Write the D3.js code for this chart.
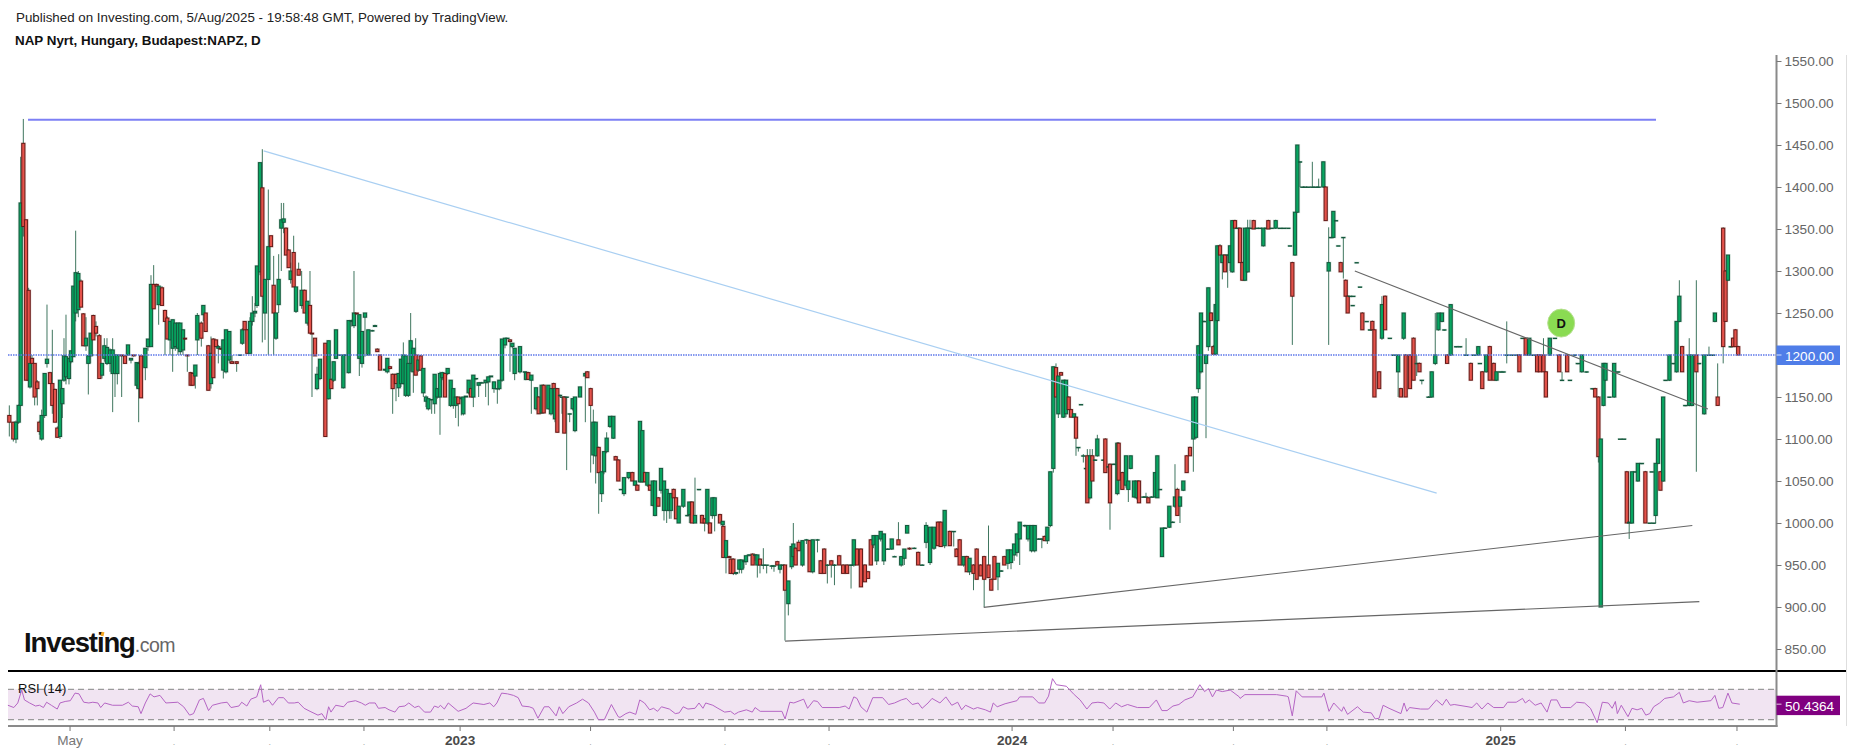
<!DOCTYPE html>
<html><head><meta charset="utf-8">
<script src="https://d3js.org/d3.v7.min.js"></script>
<style>html,body{margin:0;padding:0;background:#fff}svg{display:block}text{font-family:"Liberation Sans",Arial,sans-serif}</style>
</head><body><svg id="c" width="1855" height="755"></svg>
<script>
// rows: [session reading, open, high, low, close]
const candlesA=[[28,1128,1140,1103,1120],[40,1120,1120,1097,1100],[48,1100,1122,1095,1120],[56,1120,1141,1118,1140],[62,1140,1436,1140,1381],[70,1452,1481,1341,1353],[78,1361,1361,1170,1170],[86,1277,1280,1170,1170],[90,1162,1200,1160,1190],[96,1196,1200,1190,1190],[104,1190,1190,1140,1150],[112,1168,1170,1140,1160],[118,1120,1122,1105,1109],[125,1100,1135,1098,1128],[134,1128,1178,1125,1178],[141,1190,1260,1185,1195],[150,1179,1180,1166,1166],[157,1166,1230,1130,1140],[165,1159,1160,1120,1120],[172,1113,1115,1102,1102],[180,1103,1170,1100,1170],[187,1142,1160,1125,1160],[192,1170,1220,1168,1199],[198,1174,1248,1165,1198],[207,1172,1196,1165,1196],[213,1192,1205,1190,1205],[220,1198,1282,1198,1282],[227,1250,1348,1240,1298],[235,1254,1300,1245,1297],[243,1288,1290,1257,1257],[250,1249,1250,1211,1211],[258,1211,1245,1205,1220],[265,1190,1200,1153,1199],[272,1199,1226,1190,1226],[280,1247,1248,1218,1218],[288,1234,1240,1222,1226],[298,1223,1225,1172,1172],[306,1176,1190,1172,1190],[313,1196,1220,1192,1211],[321,1190,1220,1188,1209],[330,1190,1208,1180,1206],[338,1178,1220,1132,1206],[345,1178,1200,1150,1200],[352,1178,1200,1165,1200],[365,1200,1200,1150,1199],[375,1199,1199,1190,1190],[384,1200,1212,1200,1212],[393,1194,1196,1190,1196],[401,1200,1200,1198,1199],[410,1164,1191,1160,1191],[416,1160,1192,1120,1190],[423,1199,1199,1149,1149],[436,1185,1208,1170,1208],[444,1210,1219,1205,1219],[453,1210,1295,1210,1284],[461,1284,1307,1255,1255],[470,1284,1285,1282,1282],[476,1260,1282,1236,1282],[486,1280,1282,1259,1259],[495,1253,1254,1200,1240],[502,1244,1246,1219,1219],[510,1218,1240,1200,1240],[518,1208,1242,1180,1242],[526,1210,1238,1205,1238],[534,1208,1238,1200,1238],[541,1204,1238,1200,1238],[549,1206,1230,1200,1230],[555,1220,1220,1218,1219],[562,1200,1200,1180,1199],[572,1179,1180,1164,1164],[578,1178,1178,1164,1164],[586,1175,1188,1160,1188],[592,1218,1250,1200,1247]];
const candlesB=[[4,1238,1240,1210,1220],[10,1248,1259,1240,1259],[17,1250,1250,1228,1228],[25,1211,1212,1158,1158],[33,1166,1222,1160,1202],[40,1219,1220,1173,1173],[48,1218,1218,1210,1210],[55,1208,1212,1190,1210],[62,1208,1208,1206,1207],[70,1182,1218,1172,1218],[78,1180,1230,1178,1230],[88,1194,1228,1190,1228],[96,1192,1200,1190,1190],[110,1192,1192,1180,1190],[120,1200,1200,1200,1200],[127,1214,1232,1212,1230],[134,1240,1240,1230,1230],[142,1230,1231,1202,1202],[150,1202,1245,1202,1240],[157,1240,1270,1235,1250],[165,1250,1262,1245,1252],[171,1259,1306,1256,1306],[180,1299,1429,1295,1429],[187,1399,1445,1215,1270],[195,1250,1290,1218,1290],[205,1290,1397,1200,1329],[213,1342,1342,1329,1329],[221,1283,1318,1200,1250],[228,1220,1250,1218,1250],[236,1260,1320,1250,1290],[244,1351,1381,1300,1361],[251,1358,1381,1345,1362],[258,1351,1352,1319,1319],[266,1325,1326,1304,1304],[272,1290,1310,1285,1300],[281,1322,1342,1281,1281],[288,1252,1281,1250,1281],[296,1302,1310,1295,1295],[305,1259,1300,1255,1277],[314,1277,1278,1250,1250],[322,1238,1264,1235,1264],[330,1259,1300,1226,1226],[336,1226,1226,1150,1225],[345,1220,1220,1199,1199],[351,1160,1186,1158,1177],[360,1172,1195,1170,1195],[376,1214,1214,1103,1103],[386,1148,1217,1147,1217],[394,1171,1172,1160,1160],[401,1170,1192,1168,1192],[408,1196,1230,1196,1230],[416,1200,1200,1199,1200],[430,1161,1200,1160,1200],[438,1200,1200,1199,1200],[446,1179,1241,1178,1241],[455,1240,1242,1234,1241],[462,1235,1300,1232,1250],[470,1250,1250,1248,1249],[478,1196,1248,1175,1248],[486,1190,1228,1185,1228],[495,1245,1250,1198,1250],[505,1200,1230,1200,1230],[517,1229,1230,1228,1229],[525,1234,1236,1234,1235],[532,1207,1208,1204,1204],[540,1200,1200,1182,1182],[555,1182,1183,1181,1183],[562,1180,1196,1178,1196],[570,1186,1187,1183,1184],[578,1177,1178,1130,1160],[588,1177,1178,1145,1166],[596,1161,1178,1150,1178]];
const candlesC=[[3,1166,1195,1162,1195],[10,1166,1215,1165,1200],[17,1152,1199,1150,1199],[25,1152,1190,1150,1190],[32,1190,1250,1180,1217],[40,1180,1208,1155,1208],[47,1200,1220,1176,1176],[55,1182,1194,1180,1194],[62,1199,1200,1182,1182],[70,1155,1184,1150,1184],[78,1145,1152,1138,1150],[85,1136,1148,1134,1148],[95,1147,1147,1130,1147],[104,1142,1177,1130,1177],[112,1150,1160,1148,1160],[120,1150,1180,1105,1178],[127,1173,1180,1170,1179],[135,1178,1179,1150,1150],[143,1178,1184,1176,1184],[152,1140,1170,1138,1170],[160,1140,1160,1136,1160],[167,1140,1150,1125,1150],[175,1150,1150,1115,1142],[184,1148,1150,1128,1149],[190,1130,1150,1128,1150],[198,1150,1151,1150,1151],[206,1155,1170,1153,1170],[213,1160,1161,1150,1150],[220,1150,1176,1138,1176],[228,1172,1172,1170,1172],[236,1164,1167,1150,1167],[245,1167,1168,1166,1167],[257,1167,1170,1150,1170],[265,1168,1174,1140,1174],[273,1174,1175,1174,1175],[282,1160,1168,1155,1168],[292,1160,1160,1142,1160],[298,1160,1170,1158,1170],[306,1170,1219,1168,1219],[315,1212,1220,1208,1220],[322,1220,1220,1219,1220],[330,1218,1219,1180,1216],[337,1210,1214,1208,1214],[344,1178,1208,1170,1208],[360,1180,1210,1178,1210],[375,1180,1180,1170,1180],[378,1171,1179,1170,1179],[385,1179,1180,1171,1171],[394,1170,1176,1130,1176],[408,1136,1161,1134,1161],[416,1150,1151,1130,1130],[425,1131,1164,1130,1164],[431,1164,1165,1131,1131],[445,1136,1164,1135,1164],[453,1130,1160,1128,1160],[461,1166,1167,1160,1160],[465,1124,1160,1120,1160],[472,1160,1160,1108,1108],[480,1152,1153,1150,1152],[486,1150,1150,1130,1150],[493,1150,1151,1107,1107],[500,1150,1150,1063,1150],[509,1130,1130,1120,1130],[518,1136,1148,1134,1148],[525,1110,1150,1108,1150],[540,1150,1162,1150,1162],[556,1175,1180,1120,1178],[562,1180,1181,1173,1173],[572,1160,1161,1060,1140],[580,1081,1135,1070,1120],[587,1080,1120,1047,1120],[596,1090,1091,1011,1060]];
const candlesD=[[5,1035,1061,1025,1061],[12,1061,1085,1058,1085],[20,1085,1108,1083,1101],[30,1115,1127,1113,1127],[40,1101,1127,1100,1127],[47,1079,1080,1075,1075],[55,1075,1076,1050,1050],[63,1040,1040,1040,1040],[72,1035,1054,1032,1054],[86,1054,1060,1052,1060],[97,1060,1061,1050,1050],[105,1045,1050,1044,1050],[112,1045,1046,1039,1039],[120,1049,1121,1048,1121],[127,1049,1110,1048,1110],[135,1060,1061,1049,1049],[142,1045,1060,1043,1060],[150,1045,1046,1039,1039],[158,1021,1050,1020,1050],[165,1009,1050,1008,1050],[175,1030,1031,1020,1020],[183,1039,1065,1035,1065],[192,1015,1050,1003,1050],[200,1015,1040,1000,1040],[208,1015,1035,1005,1035],[213,1015,1035,1005,1035],[221,1040,1041,1030,1030],[228,1030,1031,1005,1005],[236,1000,1020,1000,1020],[250,1020,1040,1018,1040],[262,1009,1010,1008,1009],[268,1010,1025,1000,1025],[276,1025,1026,1000,1000],[285,1000,1054,1000,1009],[297,1040,1040,1039,1040],[306,1009,1010,1000,1000],[314,1005,1006,990,1000],[322,1000,1040,998,1040],[330,1000,1001,988,988],[337,1009,1030,1005,1030],[344,1009,1030,990,1030],[360,1010,1011,1000,1000],[368,998,1002,996,1002],[370,996,997,959,959],[378,959,979,940,979],[388,960,961,958,959],[392,957,958,940,940],[400,957,958,938,940],[408,940,941,938,941],[418,945,956,940,956],[425,945,956,940,956],[432,954,955,946,955],[438,954,961,950,961],[447,962,963,960,962],[458,963,964,950,950],[465,962,963,955,962],[472,950,962,935,962],[480,957,958,940,950],[490,950,970,945,950],[500,950,950,940,950],[515,949,950,945,949],[522,949,950,942,949],[532,954,955,950,950],[540,945,950,940,950],[548,950,950,949,950],[555,950,950,860,920],[565,904,931,890,931],[575,948,972,945,972],[580,960,1000,955,975],[587,970,971,950,950],[596,977,980,967,967]];
const candlesE=[[462,950,979,948,979],[472,980,981,975,980],[480,979,980,942,942],[488,942,980,940,980],[500,980,981,965,980],[508,955,956,940,940],[517,969,970,940,940],[525,950,951,928,950],[535,955,956,935,950],[543,950,951,926,950],[555,961,962,950,950],[565,950,951,940,940],[575,950,951,940,940],[585,950,951,922,950],[592,950,980,948,980],[600,969,970,950,950],[610,969,970,924,924],[620,950,951,930,930],[628,942,943,934,934],[635,980,981,950,950],[642,974,985,970,985],[650,955,985,950,985],[660,981,990,978,990],[668,955,987,950,987],[678,969,970,968,969],[688,969,981,968,981],[695,960,961,960,960],[705,980,1001,974,974],[712,950,960,948,960],[720,958,969,950,969],[727,988,997,988,997],[733,970,971,968,969],[745,970,971,969,970],[755,965,966,950,950],[765,950,951,950,950],[775,977,1001,970,997],[785,953,995,950,995],[795,970,995,968,995],[805,1001,1002,973,973],[812,1001,1002,972,972],[822,973,1015,970,1015],[835,990,991,973,973],[845,990,990,972,990],[852,969,970,960,960],[860,980,981,950,950],[870,950,960,948,960],[878,960,961,942,942],[885,942,958,938,958],[895,950,951,920,940],[903,969,970,933,933],[913,950,951,937,937],[922,960,961,900,933],[933,950,997,935,935],[940,933,934,920,920],[948,960,961,933,933],[957,936,952,920,952],[965,943,944,942,943],[973,960,961,950,950],[982,952,968,945,968],[990,953,968,945,968],[998,962,975,955,975],[1005,965,987,960,987],[1012,981,1001,950,1001],[1025,997,998,995,997],[1033,981,997,978,997],[1042,967,997,965,997],[1050,967,997,965,997],[1060,981,982,980,981],[1068,981,982,970,981],[1075,984,985,979,979],[1082,979,995,975,995]];
const candlesF=[[31,997,1061,995,1061],[40,1065,1186,1060,1186],[48,1185,1190,1150,1150],[55,1130,1175,1125,1175],[63,1179,1180,1176,1176],[70,1126,1170,1125,1170],[78,1130,1170,1126,1170],[86,1150,1151,1135,1135],[93,1135,1136,1126,1126],[102,1126,1130,1125,1130],[108,1126,1127,1080,1101],[115,1090,1090,1085,1090],[123,1141,1141,1141,1141],[130,1080,1082,1072,1080],[138,1065,1065,1065,1065],[142,1080,1088,1024,1024],[150,1030,1088,1028,1080],[157,1080,1088,1050,1050],[165,1075,1076,1074,1075],[172,1080,1105,1079,1100],[190,1075,1076,1075,1075],[196,1100,1101,1060,1060],[205,1067,1068,1067,1067],[210,1070,1071,992,1024],[222,1070,1071,1070,1070],[232,1035,1096,1033,1095],[236,1095,1096,1051,1051],[247,1060,1061,1040,1040],[258,1045,1080,1042,1080],[265,1040,1050,1025,1050],[272,1065,1080,1064,1080],[282,1031,1050,1030,1050],[290,1030,1050,1028,1050],[297,1050,1051,1024,1024],[310,1031,1032,1030,1031],[318,1031,1036,1030,1031],[325,1030,1031,1024,1024],[335,1031,1032,1031,1031],[345,1031,1060,1030,1060],[352,1030,1080,1030,1080],[360,1040,1040,1040,1040],[366,960,994,960,994],[375,994,995,993,994],[388,995,1020,994,1020],[398,1001,1002,1000,1001],[405,1020,1070,1018,1031],[412,1040,1042,1009,1009],[420,1020,1031,1000,1031],[430,1039,1050,1038,1050],[440,1080,1081,1060,1060],[450,1090,1091,1080,1080],[460,1100,1150,1061,1150],[468,1102,1150,1100,1150]];
const candlesG=[[55,1160,1211,1155,1211],[63,1180,1250,1178,1250],[72,1240,1241,1240,1240],[78,1190,1200,1101,1200],[85,1210,1280,1205,1280],[93,1250,1251,1241,1241],[100,1210,1212,1201,1201],[107,1201,1260,1200,1260],[112,1241,1330,1239,1330],[120,1330,1332,1319,1319],[127,1310,1319,1290,1319],[135,1319,1320,1299,1299],[143,1319,1320,1280,1319],[150,1310,1330,1300,1330],[157,1299,1360,1298,1360],[165,1360,1361,1351,1351],[172,1351,1351,1350,1351],[180,1351,1352,1310,1310],[187,1310,1311,1289,1289],[195,1289,1351,1288,1351],[203,1299,1361,1298,1351],[210,1351,1361,1350,1351],[221,1360,1361,1350,1350],[230,1351,1351,1350,1351],[240,1351,1351,1350,1351],[250,1330,1351,1329,1351],[258,1351,1351,1350,1351],[265,1360,1361,1350,1350],[275,1351,1351,1350,1351],[287,1351,1361,1350,1360],[300,1351,1351,1350,1351],[312,1351,1351,1350,1351],[325,1351,1351,1350,1351],[330,1330,1330,1330,1330],[337,1310,1311,1212,1270],[345,1319,1370,1318,1370],[352,1370,1450,1369,1450],[360,1430,1430,1400,1430],[367,1400,1400,1399,1400],[375,1400,1400,1399,1400],[385,1400,1400,1399,1400],[397,1400,1430,1399,1400],[407,1400,1400,1399,1400],[416,1400,1410,1399,1400],[430,1400,1430,1399,1430],[437,1400,1401,1360,1360],[446,1300,1352,1212,1310],[453,1340,1340,1339,1340],[460,1340,1371,1339,1371],[468,1360,1360,1360,1360],[475,1330,1330,1330,1330],[482,1310,1311,1299,1299],[490,1340,1340,1291,1340],[497,1289,1290,1270,1270],[503,1270,1271,1250,1250],[510,1270,1270,1270,1270],[520,1270,1270,1270,1270],[518,1259,1259,1259,1259],[530,1310,1310,1310,1310],[540,1281,1281,1281,1281],[547,1250,1251,1230,1230],[560,1240,1240,1240,1240],[570,1230,1230,1230,1230],[577,1240,1241,1230,1230]];
const candlesH=[[353,1230,1231,1150,1150],[365,1180,1181,1160,1160],[372,1220,1270,1218,1260],[380,1270,1271,1230,1230],[392,1220,1220,1219,1220],[402,1200,1200,1199,1200],[413,1180,1200,1150,1200],[420,1160,1161,1150,1150],[427,1220,1250,1218,1250],[432,1200,1201,1150,1150],[443,1200,1201,1160,1160],[452,1220,1221,1170,1170],[460,1190,1200,1175,1190],[467,1190,1191,1180,1180],[473,1170,1170,1165,1170],[490,1150,1151,1150,1150],[498,1150,1180,1149,1180],[507,1190,1250,1188,1200],[515,1230,1250,1229,1250],[524,1240,1250,1239,1250],[530,1230,1230,1229,1230],[537,1200,1201,1190,1190],[546,1200,1260,1199,1260],[560,1210,1210,1209,1210],[570,1210,1210,1209,1210],[585,1200,1220,1199,1200],[597,1190,1191,1170,1170],[605,1200,1200,1199,1200],[616,1200,1210,1199,1210],[620,1190,1190,1190,1190],[626,1180,1181,1160,1160],[636,1180,1200,1179,1200],[645,1210,1211,1170,1170],[655,1190,1191,1170,1170],[662,1170,1180,1169,1180],[672,1180,1180,1179,1180],[680,1180,1180,1179,1180],[688,1200,1240,1190,1200],[700,1200,1200,1199,1200],[712,1200,1200,1199,1200],[720,1200,1201,1180,1180],[728,1220,1220,1219,1220],[736,1220,1221,1200,1200],[745,1200,1220,1199,1220],[755,1200,1200,1199,1200],[765,1200,1201,1180,1180],[772,1200,1201,1180,1180],[781,1200,1220,1180,1180],[787,1180,1181,1150,1150],[797,1200,1220,1199,1220],[810,1220,1220,1219,1220],[821,1200,1201,1180,1180],[828,1170,1180,1169,1170],[841,1200,1201,1180,1180],[848,1170,1170,1169,1170],[860,1200,1200,1199,1200],[868,1190,1190,1189,1190],[878,1180,1200,1179,1200],[890,1180,1180,1179,1180],[905,1160,1160,1159,1160],[912,1160,1161,1150,1150],[920,1150,1151,1072,1079],[926,900,1100,900,1100],[933,1140,1190,1139,1190],[938,1170,1190,1169,1190],[948,1150,1150,1149,1150],[960,1150,1190,1149,1190],[970,1180,1180,1179,1180],[975,1100,1100,1100,1100],[985,1100,1100,1100,1100],[992,1061,1062,1000,1000],[998,1000,1001,981,1001],[1005,1000,1061,999,1061],[1013,1061,1061,1060,1061],[1020,1050,1071,1049,1071],[1030,1071,1071,1070,1071],[1039,1061,1062,1000,1000],[1050,1000,1000,999,1000],[1055,1061,1061,1061,1061],[1060,1000,1000,999,1000],[1065,1009,1071,1000,1071],[1071,1071,1100,1070,1100],[1077,1061,1062,1039,1039],[1084,1050,1150,1049,1150],[1090,1170,1170,1169,1170],[1100,1170,1200,1169,1200],[1110,1190,1190,1189,1190],[1118,1180,1240,1179,1240],[1125,1240,1289,1239,1270],[1132,1210,1211,1180,1180],[1140,1140,1140,1139,1140],[1150,1140,1220,1139,1200],[1157,1140,1200,1139,1200],[1168,1200,1289,1061,1180],[1175,1190,1190,1189,1190],[1188,1130,1200,1129,1200],[1200,1200,1210,1199,1200],[1210,1200,1200,1199,1200],[1215,1240,1250,1239,1250],[1222,1150,1190,1140,1140],[1236,1351,1352,1190,1210],[1242,1300,1301,1240,1240],[1248,1289,1319,1288,1319],[1255,1210,1210,1209,1210],[1261,1220,1221,1210,1210],[1267,1230,1231,1210,1210],[1274,1210,1211,1200,1200]];
// where each block of readings starts, in sessions, and sessions per reading unit
const candleBlocks=[candlesA,candlesB,candlesC,candlesD,candlesE,candlesF,candlesG,candlesH];
const blockStart=[-3.64,87.27,178.18,269.09,278.18,469.09,532.73,557.73];
const blockRate=[1/6.6,1/6.6,1/6.6,1/6.6,1/5.57,1/6.6,1/6.6,1/5.57];
const rsiA=[[20,49],[35,46],[45,52],[55,69],[62,56],[75,52],[90,48],[100,49],[110,46],[118,53],[130,49],[145,44],[152,52],[165,54],[178,55],[190,65],[200,64],[212,53],[225,52],[235,53],[248,52],[255,46],[265,52],[285,49],[310,49],[325,53],[335,48],[350,47],[357,38],[368,52],[380,64],[390,60],[405,62],[420,52],[450,53],[465,47],[480,36],[490,38],[505,56],[515,58],[520,52],[528,42],[538,49],[560,52],[575,53],[585,46],[605,48],[612,53],[625,48],[635,57],[650,60],[660,76],[667,53],[680,56],[690,49],[705,59],[718,59],[730,52],[745,52],[755,53],[770,45],[785,41],[805,36],[815,38],[825,30],[832,47],[838,40],[850,49],[870,47],[880,53],[900,55],[915,52],[925,49],[935,52],[950,52],[958,45],[975,46],[985,43],[1000,40],[1010,47],[1025,48],[1035,52],[1050,46],[1060,48],[1075,40],[1090,40],[1100,48],[1110,46],[1115,49],[1125,44],[1135,52],[1160,41],[1180,45],[1190,49],[1198,52],[1225,50],[1240,52],[1250,47],[1258,52],[1270,65],[1285,64],[1300,62],[1312,59],[1322,48],[1340,47],[1350,45],[1362,32],[1378,47],[1390,47],[1408,35],[1416,47],[1425,38],[1440,47],[1460,52],[1475,57],[1490,52],[1505,40],[1515,30],[1530,30],[1548,50],[1565,34]];
const rsiB=[[0,33],[15,38],[25,40],[40,37],[50,56],[62,52],[75,43],[85,45],[95,41],[105,47],[125,44],[140,38],[150,39],[160,47],[172,44],[190,45],[200,52],[210,45],[217,52],[235,49],[248,45],[265,40],[280,41],[290,37],[300,40],[320,43],[335,40],[342,46],[355,41],[410,41],[418,31],[430,53],[440,52],[465,57],[475,45],[490,55],[500,54],[512,46],[555,46],[570,48],[580,44],[592,60],[600,58],[610,47],[625,40],[640,59],[665,59],[680,50],[695,52],[712,56],[725,58],[740,50],[755,52],[765,45],[780,52],[790,58],[810,52],[825,60],[840,49],[855,53],[865,43],[875,49],[895,44],[905,46],[925,43],[938,40],[945,52],[955,47],[975,51],[990,53],[1005,55],[1012,60],[1045,60],[1060,52],[1075,52],[1085,61],[1095,84],[1105,76],[1130,74],[1150,63],[1165,56],[1182,44],[1195,52],[1210,53],[1225,52],[1240,44],[1255,52],[1270,47],[1285,50],[1310,46],[1340,46],[1358,56],[1372,42],[1385,42],[1400,48],[1415,50],[1430,56],[1450,60],[1468,76],[1480,67],[1490,71],[1500,60],[1510,69],[1525,67],[1545,69],[1568,60]];
const rsiC=[[13,58],[25,63],[105,63],[130,61],[135,60],[145,35],[155,68],[170,60],[220,60],[225,65],[238,41],[250,52],[270,41],[275,47],[285,37],[310,47],[325,40],[345,39],[355,31],[365,32],[375,49],[390,45],[420,38],[428,52],[435,41],[442,46],[470,44],[490,44],[510,56],[525,49],[535,57],[545,49],[555,50],[590,47],[600,46],[612,52],[625,44],[640,52],[655,46],[680,46],[690,53],[712,53],[728,58],[735,52],[745,56],[760,49],[775,52],[790,40],[800,56],[815,56],[825,46],[850,46],[865,53],[885,52],[900,45],[917,26],[930,53],[945,52],[955,45],[963,54],[968,38],[978,49],[995,34],[1005,45],[1018,43],[1030,45],[1040,36],[1050,38],[1060,47],[1075,52],[1088,58],[1110,60],[1125,66],[1135,52],[1150,55],[1170,53],[1205,55],[1215,62],[1225,45],[1235,46],[1248,65],[1258,52],[1278,50.4]];
const rsiBlocks=[rsiA,rsiB,rsiC];
const rsiStart=[-3.64,278.18,557.73];
const priceTicks=[1550,1500,1450,1400,1350,1300,1250,1200,1150,1100,1050,1000,950,900,850];
const timeTickSessions=[28.2,75.5,119,161.8,205.5,264.8,325.9,373.2,456.4,502.3,557,599.5,678.5,735.2,785.9];
const timeTickLabels=["May",".",".",".","2023",".",".",".","2024",".",".",".","2025",".","."];
const supportLevel=[[9.1,1480],[749.1,1480]];
const lastLevel=1200;
const fallingBlue=[[116.2,1443],[649.4,1035.5]];
const greyTrends=[[[353.2,859.4],[768.8,906.4]],[[443.5,899.6],[765.6,997]],[[612.2,1300],[772.7,1135.6]]];
const dividendMark=[706,1238];
const rsiNow=50.4364, rsiHi=70, rsiLo=30;

const svg=d3.select("#c");
const x=d3.scaleLinear().domain([0,790]).range([8,1746]);
const y=d3.scaleLinear().domain([1200,900]).range([355,607]);
const yR=d3.scaleLinear().domain([rsiHi,rsiLo]).range([689.3,719.7]);
const L=8,R=1776.5,top0=55,bot=671,axisY=726;

const bars=candleBlocks.flatMap((b,i)=>b.map(r=>({s:blockStart[i]+r[0]*blockRate[i],o:r[1],h:r[2],l:r[3],c:r[4]})));
const g=svg.append("g");
// halo
g.selectAll("rect.h").data(bars).join("rect").attr("x",d=>x(d.s)-2.8).attr("width",5.6)
 .attr("y",d=>y(Math.max(d.o,d.c))-1).attr("height",d=>Math.abs(y(d.o)-y(d.c))+2).attr("fill",d=>d.c>=d.o?"#7fa896":"#c99a96").attr("opacity",.3);
g.selectAll("line.w").data(bars).join("line").attr("x1",d=>x(d.s)).attr("x2",d=>x(d.s)).attr("y1",d=>y(d.h)).attr("y2",d=>y(d.l))
 .attr("stroke","#1f5f44").attr("stroke-width",1).attr("opacity",.85);
g.selectAll("rect.b").data(bars).join("rect").attr("x",d=>x(d.s)-1.6).attr("width",3.2)
 .attr("y",d=>y(Math.max(d.o,d.c))).attr("height",d=>Math.max(Math.abs(y(d.o)-y(d.c)),.4))
 .attr("fill",d=>d.c>=d.o?"#07a661":"#e4524a").attr("stroke",d=>d.c>=d.o?"#14573c":"#641a18").attr("stroke-width",1);

const ln=d3.line().x(d=>x(d[0])).y(d=>y(d[1]));
svg.append("path").attr("d",ln(supportLevel)).attr("stroke","#7d80f5").attr("stroke-width",2).attr("fill","none");
svg.append("line").attr("x1",L).attr("x2",R).attr("y1",y(lastLevel)).attr("y2",y(lastLevel)).attr("stroke","#5f78ea").attr("stroke-width",1.5).attr("stroke-dasharray","1.5 1");
svg.append("path").attr("d",ln(fallingBlue)).attr("stroke","#a9cff2").attr("stroke-width",1.2).attr("fill","none");
greyTrends.forEach(t=>svg.append("path").attr("d",ln(t)).attr("stroke","#666").attr("stroke-width",1.1).attr("fill","none"));

// D marker
const dm=svg.append("g").attr("transform",`translate(${x(dividendMark[0])},${y(dividendMark[1])})`);
dm.append("ellipse").attr("rx",13.5).attr("ry",14).attr("fill","#8adb52").attr("stroke","#b6e090").attr("stroke-width",1);
dm.append("text").attr("text-anchor","middle").attr("y",4.5).attr("font-size",13).attr("font-weight","bold").attr("fill","#111").text("D");

// RSI pane
svg.append("rect").attr("x",L).attr("width",R-L).attr("y",yR(rsiHi)).attr("height",yR(rsiLo)-yR(rsiHi)).attr("fill","#f1e4f2");
[rsiHi,rsiLo].forEach(v=>svg.append("line").attr("x1",L).attr("x2",R).attr("y1",yR(v)).attr("y2",yR(v)).attr("stroke","#9a9a9a").attr("stroke-width",1.2).attr("stroke-dasharray","6 4"));
const rsiPts=rsiBlocks.flatMap((b,i)=>b.map(r=>[rsiStart[i]+r[0]/5.57,r[1]]));
svg.append("path").attr("d",d3.line().x(d=>x(d[0])).y(d=>yR(d[1]))(rsiPts)).attr("fill","none").attr("stroke","#b565c4").attr("stroke-width",1);
svg.append("text").attr("x",18).attr("y",692.5).attr("font-size",13).attr("fill","#111").text("RSI (14)");

// frames
svg.append("line").attr("x1",L).attr("x2",1847).attr("y1",bot).attr("y2",bot).attr("stroke","#000").attr("stroke-width",2);
svg.append("line").attr("x1",L).attr("x2",R+1).attr("y1",axisY).attr("y2",axisY).attr("stroke","#8a8a8a").attr("stroke-width",2);
svg.append("line").attr("x1",R).attr("x2",R).attr("y1",top0).attr("y2",axisY+1).attr("stroke","#8a8a8a").attr("stroke-width",2);
svg.append("line").attr("x1",1846.5).attr("x2",1846.5).attr("y1",top0).attr("y2",axisY).attr("stroke","#dedede").attr("stroke-width",1);

// price axis
const pa=svg.append("g").attr("transform",`translate(${R},0)`).call(d3.axisRight(y).tickValues(priceTicks).tickFormat(d3.format(".2f")).tickSize(5).tickPadding(3));
pa.select(".domain").remove();
pa.selectAll(".tick line").attr("stroke","#777");
pa.selectAll(".tick text").attr("font-size",13.6).attr("fill","#666").attr("font-family",'"Liberation Sans",Arial,sans-serif').attr("dy","0.3em");
pa.selectAll(".tick").filter(d=>d===lastLevel).remove();
// badges
svg.append("rect").attr("x",R).attr("width",1840-R).attr("y",y(lastLevel)-9.5).attr("height",19.5).attr("fill","#4f7de8");
svg.append("line").attr("x1",R).attr("x2",R+5).attr("y1",y(lastLevel)).attr("y2",y(lastLevel)).attr("stroke","#d8e2fb");
svg.append("text").attr("x",1785).attr("y",y(lastLevel)+5.5).attr("font-size",13.6).attr("fill","#fff").text(d3.format(".2f")(lastLevel));
svg.append("rect").attr("x",R).attr("width",1840-R).attr("y",695.7).attr("height",19.4).attr("fill","#800080");
svg.append("line").attr("x1",R).attr("x2",R+5).attr("y1",yR(rsiNow)).attr("y2",yR(rsiNow)).attr("stroke","#e5c8e5");
svg.append("text").attr("x",1785).attr("y",710.5).attr("font-size",13.6).attr("fill","#fff").text(rsiNow);

// time axis
const ta=svg.append("g");
timeTickSessions.forEach((s,i)=>{
  ta.append("line").attr("x1",x(s)).attr("x2",x(s)).attr("y1",axisY).attr("y2",axisY+5).attr("stroke","#777");
  const lab=timeTickLabels[i], bold=/^\d/.test(lab);
  ta.append("text").attr("x",x(s)).attr("y",745).attr("text-anchor","middle")
    .attr("font-size",lab==="."?9:13.6).attr("font-weight",bold?"bold":"normal").attr("fill",lab==="."?"#aaa":(bold?"#4a4a4a":"#777")).text(lab);
});

// header
svg.append("text").attr("x",16).attr("y",22).attr("font-size",13.35).attr("fill","#222").text("Published on Investing.com, 5/Aug/2025 - 19:58:48 GMT, Powered by TradingView.");
svg.append("text").attr("x",15).attr("y",45).attr("font-size",13.4).attr("font-weight","bold").attr("fill","#111").text("NAP Nyrt, Hungary, Budapest:NAPZ, D");

// logo
const lg=svg.append("text").attr("x",24).attr("y",652);
lg.append("tspan").attr("font-size",27.5).attr("font-weight","bold").attr("fill","#111").attr("letter-spacing","-1.1").text("Investing");
lg.append("tspan").attr("font-size",19.5).attr("fill","#666").attr("letter-spacing","-0.5").text(".com");
svg.append("path").attr("d",d3.line()([[102,636],[103,632]])).attr("stroke","#f5a623").attr("stroke-width",3);
</script></body></html>
